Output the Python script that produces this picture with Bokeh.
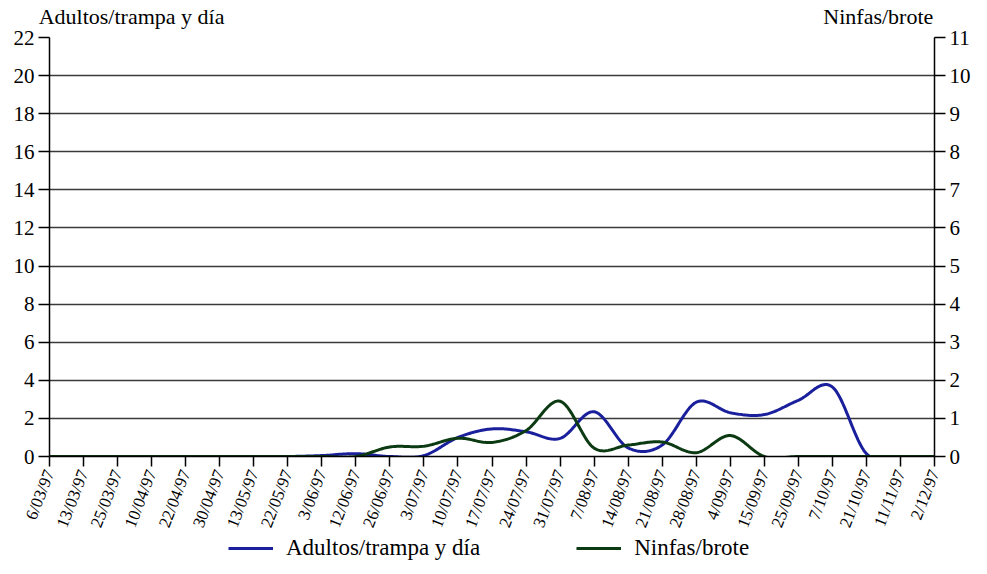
import numpy as np
from bokeh.plotting import figure
from bokeh.layouts import column
from bokeh.models import Range1d, LinearAxis, FixedTicker, Legend, LegendItem
from bokeh.embed import file_html
from bokeh.resources import INLINE

fechas = ["6/03/97", "13/03/97", "25/03/97", "10/04/97", "22/04/97", "30/04/97",
          "13/05/97", "22/05/97", "3/06/97", "12/06/97", "26/06/97", "3/07/97",
          "10/07/97", "17/07/97", "24/07/97", "31/07/97", "7/08/97", "14/08/97",
          "21/08/97", "28/08/97", "4/09/97", "15/09/97", "25/09/97", "7/10/97",
          "21/10/97", "11/11/97", "2/12/97"]
adultos = [0, 0, 0, 0, 0, 0, 0, 0, 0.05, 0.15, 0.0, 0.05, 1.0, 1.45, 1.3, 0.95,
           2.35, 0.45, 0.6, 2.85, 2.3, 2.2, 2.95, 3.65, 0.15, 0, 0]
ninfas = [0, 0, 0, 0, 0, 0, 0, 0, 0, 0, 0.25, 0.27, 0.48, 0.37, 0.68, 1.45,
          0.22, 0.3, 0.38, 0.1, 0.55, 0, 0, 0, 0, 0, 0]
titulos = ["Adultos/trampa y día", "Ninfas/brote"]

SERIF = "Liberation Serif"
BLUE = "#1a1f9c"
GREEN = "#0c3a12"


def smooth(ys, n=24):
    ys = np.asarray(ys, dtype=float)
    xs = np.arange(len(ys), dtype=float)
    p = np.concatenate([[ys[0]], ys, [ys[-1]]])
    ox, oy = [], []
    for i in range(len(ys) - 1):
        p0, p1, p2, p3 = p[i], p[i + 1], p[i + 2], p[i + 3]
        t = np.linspace(0, 1, n, endpoint=False)
        y = 0.5 * ((2 * p1) + (-p0 + p2) * t + (2 * p0 - 5 * p1 + 4 * p2 - p3) * t ** 2
                   + (-p0 + 3 * p1 - 3 * p2 + p3) * t ** 3)
        ox.extend(xs[i] + t)
        oy.extend(y)
    ox.append(xs[-1])
    oy.append(ys[-1])
    return ox, oy


p = figure(frame_width=885, frame_height=419, output_backend="svg", toolbar_location=None,
           x_range=Range1d(0, len(fechas) - 1), y_range=Range1d(0, 22),
           min_border_left=49, min_border_right=53, min_border_top=37, min_border_bottom=72)
p.outline_line_color = None
p.background_fill_color = "white"
p.border_fill_color = "white"

p.extra_y_ranges = {"ninfas": Range1d(0, 11)}

# grid
p.xgrid.visible = False
p.ygrid.ticker = FixedTicker(ticks=list(range(0, 23, 2)))
p.ygrid.grid_line_color = "#3a3a3a"
p.ygrid.grid_line_width = 1.4

# x axis
p.xaxis.ticker = FixedTicker(ticks=list(range(len(fechas))))
p.xaxis.major_label_overrides = {i: f for i, f in enumerate(fechas)}
p.xaxis.major_label_orientation = 1.2
p.xaxis.minor_tick_line_color = None
p.xaxis.major_tick_in = 0
p.xaxis.major_tick_out = 10

# left axis
p.yaxis.ticker = FixedTicker(ticks=list(range(0, 23, 2)))
p.yaxis.minor_tick_line_color = None
p.yaxis.major_tick_in = 0
p.yaxis.major_tick_out = 11

right = LinearAxis(y_range_name="ninfas", ticker=FixedTicker(ticks=list(range(0, 12))))
right.minor_tick_line_color = None
right.major_tick_in = 0
right.major_tick_out = 11
p.add_layout(right, "right")

for ax in [p.xaxis[0], p.yaxis[0], right]:
    ax.axis_line_color = "black"
    ax.axis_line_width = 1.5
    ax.major_tick_line_color = "black"
    ax.major_tick_line_width = 1.5
    ax.major_label_text_font = SERIF
    ax.major_label_text_color = "black"
    ax.major_label_standoff = 4
p.xaxis.major_label_text_font_size = "17px"
p.yaxis.major_label_text_font_size = "21px"
right.major_label_text_font_size = "21px"

# axis titles drawn as labels of an undecorated top axis
title_pos = [2.41, 24.35]
top = LinearAxis(ticker=FixedTicker(ticks=title_pos),
                 major_label_overrides={title_pos[0]: titulos[0], title_pos[1]: titulos[1]})
top.axis_line_color = None
top.major_tick_line_color = None
top.minor_tick_line_color = None
top.major_tick_out = 0
top.major_label_text_font = SERIF
top.major_label_text_font_size = "22px"
top.major_label_text_color = "black"
top.major_label_standoff = 9
p.add_layout(top, "above")

ax_, ay_ = smooth(adultos)
nx_, ny_ = smooth(ninfas)
r1 = p.line(ax_, ay_, line_color=BLUE, line_width=3)
r2 = p.line(nx_, ny_, line_color=GREEN, line_width=3, y_range_name="ninfas")

# legend strip below the chart (its lines lie outside this strip's visible range)
q = figure(width=987, height=46, output_backend="svg", toolbar_location=None,
           min_border=0, x_axis_location=None, y_axis_location=None,
           x_range=Range1d(0, 1), y_range=Range1d(100, 101))
q.grid.visible = False
q.outline_line_color = None
q.border_fill_color = "white"
q.background_fill_color = "white"
l1 = q.line(ax_, ay_, line_color=BLUE, line_width=3)
l2 = q.line(nx_, ny_, line_color=GREEN, line_width=3)
legend = Legend(items=[LegendItem(label=titulos[0], renderers=[l1]),
                       LegendItem(label=titulos[1], renderers=[l2])],
                orientation="horizontal", location=(179, 21),
                label_text_font=SERIF, label_text_font_size="23px",
                label_text_color="black", glyph_width=45, label_standoff=13,
                spacing=96, border_line_color=None, background_fill_alpha=0,
                padding=4, margin=0)
q.add_layout(legend, "center")

layout = column(p, q, spacing=0)
open("out.html", "w").write(file_html(layout, INLINE))
